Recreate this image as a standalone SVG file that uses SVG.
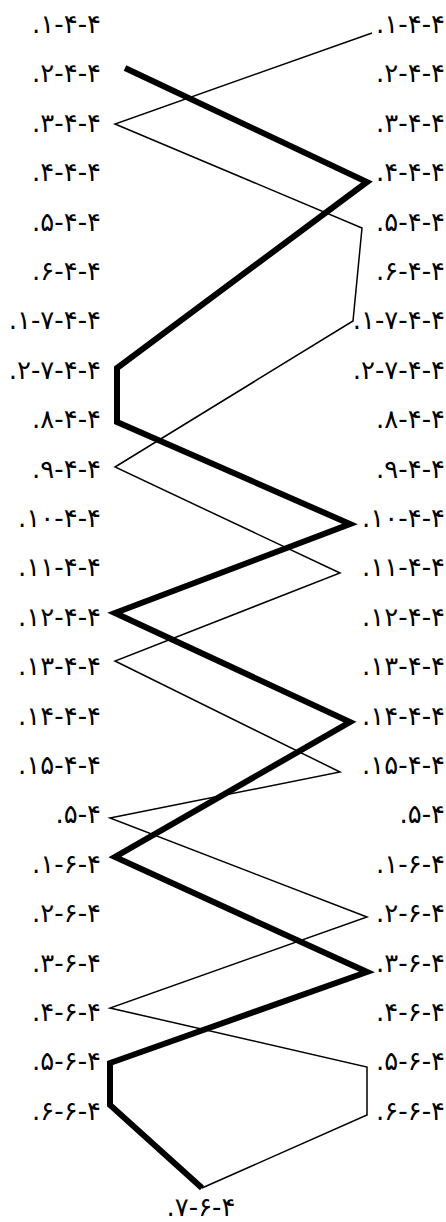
<svg xmlns="http://www.w3.org/2000/svg" width="446" height="1222" viewBox="0 0 446 1222">
<style>
text{font-family:"DejaVu Sans","Noto Sans",sans-serif;font-size:26px;fill:#000;direction:ltr;unicode-bidi:bidi-override}
.l{text-anchor:end}
.r{text-anchor:end}
.c{text-anchor:middle}
.thick{fill:none;stroke:#000;stroke-width:6;stroke-linejoin:miter}
.thin{fill:none;stroke:#000;stroke-width:1.5}
</style>
<rect width="446" height="1222" fill="#fff"/>
<g id="connectors">
<polyline class="thin" points="372,33 115,124 362,228 353,321 115,467 340,573 115,661 340,772 110,818 367,917 110,1008 367,1067 367,1115 202,1188"/>
<polyline class="thick" points="125,68 367,182 117,368 117,422 350,524 115,613 350,722 115,857 367,972 110,1063 110,1105 202,1188"/>
</g>
<g id="L1"><text class="l" x="101" y="33">.۱-۴-۴</text></g>
<g id="L2"><text class="l" x="101" y="82.4">.۲-۴-۴</text></g>
<g id="L3"><text class="l" x="101" y="131.8">.۳-۴-۴</text></g>
<g id="L4"><text class="l" x="101" y="181.2">.۴-۴-۴</text></g>
<g id="L5"><text class="l" x="101" y="230.6">.۵-۴-۴</text></g>
<g id="L6"><text class="l" x="101" y="280">.۶-۴-۴</text></g>
<g id="L7"><text class="l" x="101" y="329.4">.۱-۷-۴-۴</text></g>
<g id="L8"><text class="l" x="101" y="378.8">.۲-۷-۴-۴</text></g>
<g id="L9"><text class="l" x="101" y="428.2">.۸-۴-۴</text></g>
<g id="L10"><text class="l" x="101" y="477.6">.۹-۴-۴</text></g>
<g id="L11"><text class="l" x="101" y="527">.۱۰-۴-۴</text></g>
<g id="L12"><text class="l" x="101" y="576.4">.۱۱-۴-۴</text></g>
<g id="L13"><text class="l" x="101" y="625.8">.۱۲-۴-۴</text></g>
<g id="L14"><text class="l" x="101" y="675.2">.۱۳-۴-۴</text></g>
<g id="L15"><text class="l" x="101" y="724.6">.۱۴-۴-۴</text></g>
<g id="L16"><text class="l" x="101" y="774">.۱۵-۴-۴</text></g>
<g id="L17"><text class="l" x="101" y="823.4">.۵-۴</text></g>
<g id="L18"><text class="l" x="101" y="872.8">.۱-۶-۴</text></g>
<g id="L19"><text class="l" x="101" y="922.2">.۲-۶-۴</text></g>
<g id="L20"><text class="l" x="101" y="971.6">.۳-۶-۴</text></g>
<g id="L21"><text class="l" x="101" y="1021">.۴-۶-۴</text></g>
<g id="L22"><text class="l" x="101" y="1070.4">.۵-۶-۴</text></g>
<g id="L23"><text class="l" x="101" y="1119.8">.۶-۶-۴</text></g>
<g id="R1"><text class="r" x="445" y="33">.۱-۴-۴</text></g>
<g id="R2"><text class="r" x="445" y="82.4">.۲-۴-۴</text></g>
<g id="R3"><text class="r" x="445" y="131.8">.۳-۴-۴</text></g>
<g id="R4"><text class="r" x="445" y="181.2">.۴-۴-۴</text></g>
<g id="R5"><text class="r" x="445" y="230.6">.۵-۴-۴</text></g>
<g id="R6"><text class="r" x="445" y="280">.۶-۴-۴</text></g>
<g id="R7"><text class="r" x="445" y="329.4">.۱-۷-۴-۴</text></g>
<g id="R8"><text class="r" x="445" y="378.8">.۲-۷-۴-۴</text></g>
<g id="R9"><text class="r" x="445" y="428.2">.۸-۴-۴</text></g>
<g id="R10"><text class="r" x="445" y="477.6">.۹-۴-۴</text></g>
<g id="R11"><text class="r" x="445" y="527">.۱۰-۴-۴</text></g>
<g id="R12"><text class="r" x="445" y="576.4">.۱۱-۴-۴</text></g>
<g id="R13"><text class="r" x="445" y="625.8">.۱۲-۴-۴</text></g>
<g id="R14"><text class="r" x="445" y="675.2">.۱۳-۴-۴</text></g>
<g id="R15"><text class="r" x="445" y="724.6">.۱۴-۴-۴</text></g>
<g id="R16"><text class="r" x="445" y="774">.۱۵-۴-۴</text></g>
<g id="R17"><text class="r" x="445" y="823.4">.۵-۴</text></g>
<g id="R18"><text class="r" x="445" y="872.8">.۱-۶-۴</text></g>
<g id="R19"><text class="r" x="445" y="922.2">.۲-۶-۴</text></g>
<g id="R20"><text class="r" x="445" y="971.6">.۳-۶-۴</text></g>
<g id="R21"><text class="r" x="445" y="1021">.۴-۶-۴</text></g>
<g id="R22"><text class="r" x="445" y="1070.4">.۵-۶-۴</text></g>
<g id="R23"><text class="r" x="445" y="1119.8">.۶-۶-۴</text></g>
<g id="B"><text class="c" x="201" y="1216">.۷-۶-۴</text></g>
</svg>
